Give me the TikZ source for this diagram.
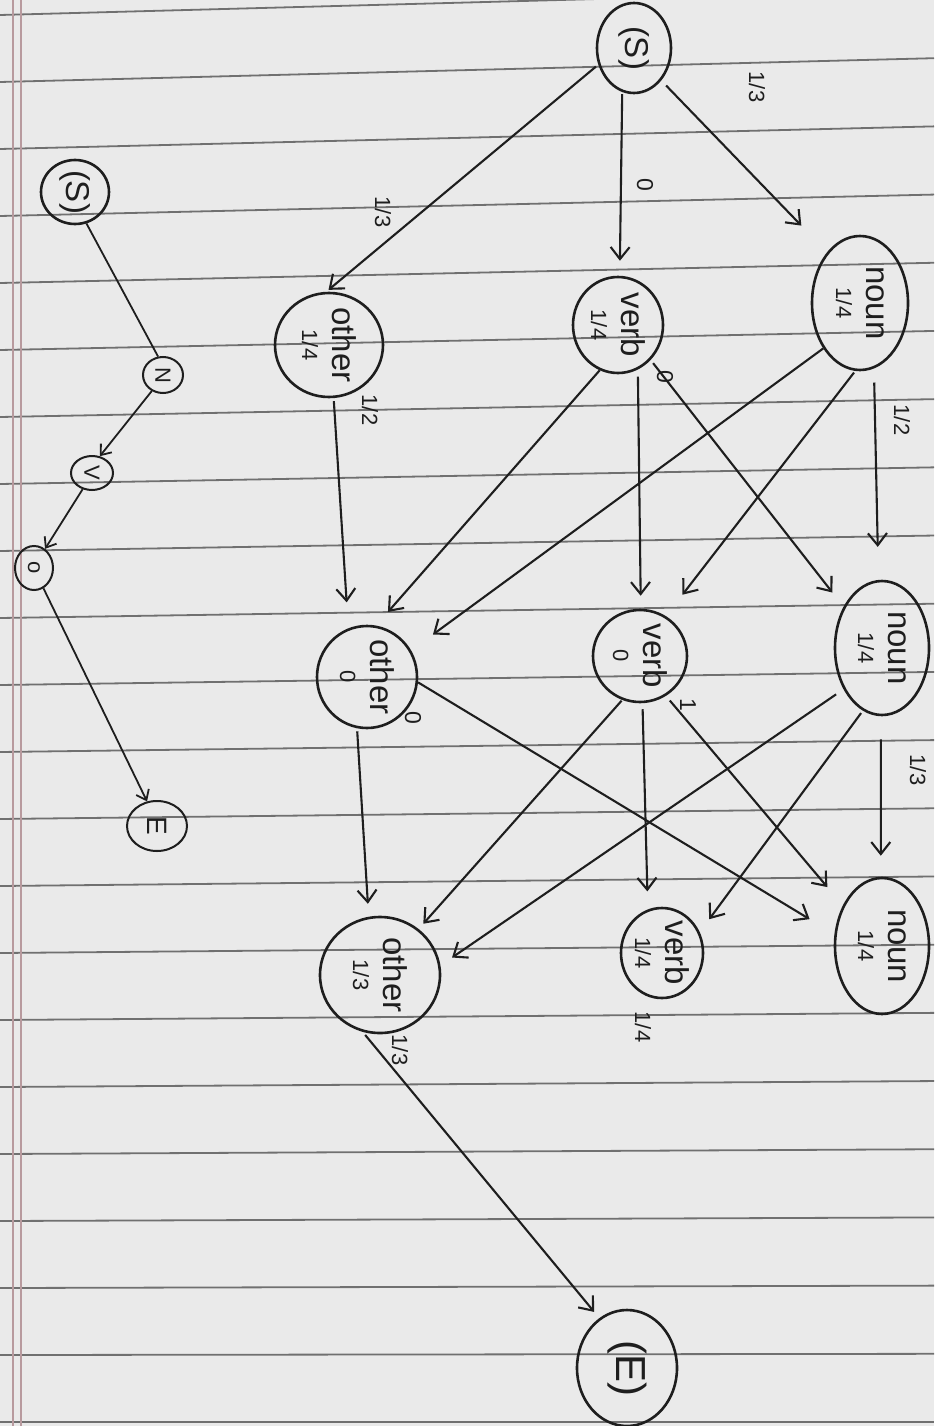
\documentclass[tikz,border=0pt]{standalone}
\usepackage{fontspec}
\setmainfont{Liberation Sans}
\usepackage{graphicx}
\usetikzlibrary{arrows.meta,shapes.geometric}
\newcommand{\fr}[2]{{\fontsize{22}{24}\selectfont #1/#2}}
\definecolor{pencil}{HTML}{1E1E1E}
\definecolor{paperbg}{HTML}{EAEAEA}
\definecolor{rule}{HTML}{707070}
\definecolor{marginc}{HTML}{B89A9E}
\begin{document}
\begin{tikzpicture}[x=1pt,y=-1pt,
  nd/.style={draw=pencil, line width=2.6pt, ellipse, inner sep=0pt},
  txt/.style={rotate=-90, align=center, font=\fontsize{33}{30}\selectfont, text=pencil, inner sep=0pt},
  elab/.style={rotate=-90, font=\fontsize{23}{23}\selectfont, text=pencil, inner sep=0pt},
  arr/.style={draw=pencil, line width=2.1pt, -{Straight Barb[length=12pt,width=19pt,line width=2.1pt]}},
  arrs/.style={draw=pencil, line width=1.8pt, -{Straight Barb[length=9pt,width=14pt,line width=1.8pt]}},
  ln/.style={draw=pencil, line width=1.8pt},
  paper/.style={draw=rule, line width=1.8pt},
  marg/.style={draw=marginc, line width=1.6pt},
]
\useasboundingbox (0,0) rectangle (934,1426);
\fill[paperbg] (0,0) rectangle (934,1426);
% ruled paper
\foreach \k in {0,...,21}{
  \pgfmathsetmacro{\ya}{15+67*\k}
  \pgfmathsetmacro{\yb}{\ya-25*(1-\k/21)}
  \draw[paper] (0,\ya) -- (934,\yb);
}
\draw[marg] (13,0) -- (13,1426);
\draw[marg] (21,0) -- (21,1426);

% main trellis nodes
\node[nd, minimum width=74pt, minimum height=90pt, label={[txt]center:{(S)}}] (S) at (634,48) {};
\node[nd, minimum width=96pt, minimum height=134pt, label={[txt]center:{noun\\\fr14}}] (noun1) at (860,303) {};
\node[nd, minimum width=90pt, minimum height=96pt, label={[txt]center:{verb\\\fr14}}] (verb1) at (618,325) {};
\node[nd, minimum width=108pt, minimum height=104pt, label={[txt]center:{other\\\fr14}}] (other1) at (329,345) {};
\node[nd, minimum width=94pt, minimum height=134pt, label={[txt]center:{noun\\\fr14}}] (noun2) at (882,648) {};
\node[nd, minimum width=94pt, minimum height=92pt, label={[txt]center:{verb\\{\fontsize{22}{24}\selectfont 0}}}] (verb2) at (640,656) {};
\node[nd, minimum width=100pt, minimum height=102pt, label={[txt]center:{other\\{\fontsize{22}{24}\selectfont 0}}}] (other2) at (367,677) {};
\node[nd, minimum width=94pt, minimum height=136pt, label={[txt]center:{noun\\\fr14}}] (noun3) at (882,946) {};
\node[nd, minimum width=82pt, minimum height=90pt, label={[txt]center:{verb\\\fr14}}] (verb3) at (662,953) {};
\node[nd, minimum width=120pt, minimum height=116pt, label={[txt]center:{other\\\fr13}}] (other3) at (380,975) {};
\node[nd, minimum width=100pt, minimum height=116pt, label={[txt,font=\fontsize{42}{42}\selectfont]center:{(E)}}] (E) at (627,1368) {};

% main trellis edges
\draw[arr, shorten <=7pt, shorten >=37pt] (S.-50) -- (noun1.123);
\draw[arr, shorten <=2pt, shorten >=15pt] (S.-105) -- (verb1.88);
\draw[arr, shorten <=3pt, shorten >=3pt] (S.205) -- (other1.93);
\draw[arr, shorten <=14pt, shorten >=33pt] (noun1.-78) -- (noun2.93);
\draw[arr, shorten <=2pt, shorten >=27pt] (noun1.-94) -- (verb2.57);
\draw[arr, shorten >=27pt] (noun1.-129) -- (other2.31);
\draw[arr, shorten <=4pt, shorten >=18pt] (verb1.-47) -- (noun2.133);
\draw[arr, shorten <=7pt, shorten >=13pt] (verb1.-66) -- (verb2.89);
\draw[arr, shorten >=18pt] (verb1.-112) -- (other2.80);
\draw[arr, shorten <=3pt, shorten >=26pt] (other1.-85) -- (other2.111);
\draw[arr, shorten <=23pt, shorten >=21pt] (noun2.-91) -- (noun3.91);
\draw[arr, shorten <=3pt, shorten >=16pt] (noun2.-107) -- (verb3.29);
\draw[arr, shorten <=9pt, shorten >=14pt] (noun2.-133) -- (other3.9);
\draw[arr, shorten <=6pt, shorten >=24pt] (verb2.-57) -- (noun3.134);
\draw[arr, shorten <=6pt, shorten >=18pt] (verb2.-87) -- (verb3.108);
\draw[arr, shorten <=1pt, shorten >=7pt] (verb2.-112) -- (other3.50);
\draw[arr, shorten >=29pt] (other2.-6) -- (noun3.166);
\draw[arr, shorten <=3pt, shorten >=13pt] (other2.-101) -- (other3.101);
\draw[arr, shorten <=4pt, shorten >=8pt] (other3.-107) -- (E.119);

% edge labels
\node[elab] (l1) at (757,87) {\fr13};
\node[elab] (l2) at (645,185) {0};
\node[elab] (l3) at (383,212) {\fr13};
\node[elab] (l4) at (902,420) {\fr12};
\node[elab] (l5) at (665,377) {0};
\node[elab] (l6) at (370,410) {\fr12};
\node[elab] (l7) at (688,705) {1};
\node[elab] (l8) at (413,718) {0};
\node[elab] (l9) at (918,770) {\fr13};
\node[elab] (l10) at (643,1027) {\fr14};
\node[elab] (l11) at (400,1050) {\fr13};

% left path
\node[nd, minimum width=68pt, minimum height=64pt, label={[txt]center:{(S)}}] (s2) at (75,192) {};
\node[nd, line width=2pt, minimum width=40pt, minimum height=36pt, label={[txt,font=\fontsize{22}{22}\selectfont]center:{N}}] (N) at (163,375) {};
\node[nd, line width=2pt, minimum width=42pt, minimum height=34pt, label={[txt,font=\fontsize{22}{22}\selectfont]center:{V}}] (V) at (92,473) {};
\node[nd, line width=2pt, minimum width=38pt, minimum height=44pt, label={[txt,font=\fontsize{22}{22}\selectfont]center:{o}}] (o) at (34,568) {};
\node[nd, line width=2pt, minimum width=60pt, minimum height=50pt, label={[txt,font=\fontsize{28}{28}\selectfont]center:{E}}] (e2) at (157,826) {};

\draw[ln] (s2.-70) -- (N.105);
\draw[arrs] (N.-125) -- (V.65);
\draw[arrs] (V.-120) -- (o.60);
\draw[arrs] (o.-65) -- (e2.112);
\end{tikzpicture}
\end{document}
